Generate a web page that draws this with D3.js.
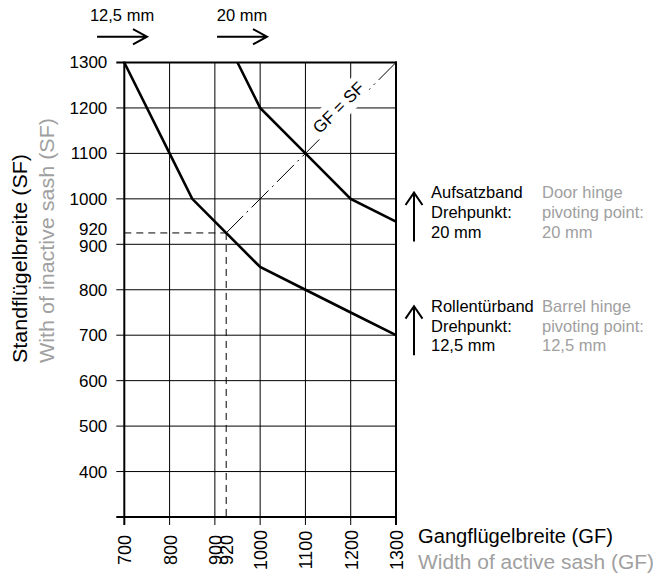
<!DOCTYPE html>
<html><head><meta charset="utf-8">
<script src="https://cdn.jsdelivr.net/npm/d3@7"></script>
<style>
body{margin:0;background:#fff}
svg{display:block}
text{font-family:Arial,"Liberation Sans",sans-serif}
</style>
</head><body>
<svg id="c" width="658" height="576"></svg>
<script>
// ---- data ----
const gfTicks = [700, 800, 900, 1000, 1100, 1200, 1300];
const sfTicks = [400, 500, 600, 700, 800, 900, 1000, 1100, 1200, 1300];
const markLabel = "920";
const guideValue = 925;
const curve125GF = [700, 800, 850, 1000, 1100, 1200, 1300];
const curve125SF = [1300, 1100, 1000, 850, 800, 750, 700];
const curve20GF = [950, 1000, 1100, 1200, 1300];
const curve20SF = [1300, 1200, 1100, 1000, 950];
const diagonalRange = [925, 1300];
const diagonalLabel = "GF = SF";
const topLabels = ["12,5 mm", "20 mm"];
const topLabelGF = [695, 960];
const hingeDE = [["Aufsatzband", "Drehpunkt:", "20 mm"], ["Rollentürband", "Drehpunkt:", "12,5 mm"]];
const hingeEN = [["Door hinge", "pivoting point:", "20 mm"], ["Barrel hinge", "pivoting point:", "12,5 mm"]];
const yTitleDE = "Standflügelbreite (SF)";
const yTitleEN = "With of inactive sash (SF)";
const xTitleDE = "Gangflügelbreite (GF)";
const xTitleEN = "Width of active sash (GF)";

// ---- layout ----
const GRAY = "#a0a0a0";
const FONT = "Arial, 'Liberation Sans', sans-serif";
const svg = d3.select("#c");
const x = d3.scaleLinear().domain([700, 1300]).range([124.3, 396]);
const y = d3.scaleLinear().domain([300, 1300]).range([517, 62.5]);
const x0 = x(700), x1 = x(1300), yb = y(300), yt = y(1300);
const TK = 8;

// grid
const grid = svg.append("g").attr("stroke", "#000").attr("stroke-width", 1);
grid.selectAll(".v").data(gfTicks.filter(d => d > 700 && d < 1300)).join("line").attr("class", "v")
  .attr("x1", d => x(d)).attr("x2", d => x(d)).attr("y1", yt).attr("y2", yb + TK);
grid.selectAll(".h").data(sfTicks.filter(d => d < 1300)).join("line").attr("class", "h")
  .attr("x1", x0 - TK).attr("x2", x1).attr("y1", d => y(d)).attr("y2", d => y(d));

// dashed guides
const dash = svg.append("g").attr("stroke", "#000").attr("stroke-width", 1).attr("stroke-dasharray", "7,5");
dash.append("line").attr("x1", x0).attr("x2", x(guideValue)).attr("y1", y(guideValue)).attr("y2", y(guideValue));
dash.append("line").attr("x1", x(guideValue)).attr("x2", x(guideValue)).attr("y1", y(guideValue)).attr("y2", yb);

// diagonal GF = SF
svg.append("line").attr("stroke", "#000").attr("stroke-width", 1).attr("stroke-dasharray", "24,5,2,5")
  .attr("x1", x(diagonalRange[0])).attr("y1", y(diagonalRange[0]))
  .attr("x2", x(diagonalRange[1])).attr("y2", y(diagonalRange[1]));

// diagonal label with white background
const lv = 1187;
const lg = svg.append("g").attr("transform", `translate(${x(lv)},${y(lv)}) rotate(-45)`);
const lbg = lg.append("rect").attr("fill", "#fff");
const lt = lg.append("text").attr("y", -3).attr("text-anchor", "middle").attr("font-size", 17).text(diagonalLabel);
const bb = lt.node().getBBox();
lbg.attr("x", bb.x - 2).attr("y", bb.y - 3).attr("width", bb.width + 4).attr("height", bb.height + 6);

// frame / axes lines
const frame = svg.append("g").attr("stroke", "#000").attr("stroke-width", 2).attr("fill", "none");
frame.append("line").attr("x1", x0).attr("x2", x0).attr("y1", yt - 1).attr("y2", yb + TK);
frame.append("line").attr("x1", x1).attr("x2", x1).attr("y1", yt - 1).attr("y2", yb + TK);
frame.append("line").attr("x1", x0 - TK).attr("x2", x1 + 1).attr("y1", yt).attr("y2", yt);
frame.append("line").attr("x1", x0 - TK).attr("x2", x1 + 1).attr("y1", yb).attr("y2", yb);

// curves
const line = d3.line().x(d => x(d[0])).y(d => y(d[1]));
const c1 = curve125GF.map((g, i) => [g, curve125SF[i]]);
const c2 = curve20GF.map((g, i) => [g, curve20SF[i]]);
svg.selectAll(".curve").data([c1, c2]).join("path").attr("class", "curve")
  .attr("d", line).attr("fill", "none").attr("stroke", "#000").attr("stroke-width", 2.6)
  .attr("stroke-linejoin", "miter");

// y axis labels
const yAxis = svg.append("g").attr("transform", `translate(${x0},0)`)
  .call(d3.axisLeft(y).tickValues(sfTicks.concat([guideValue])).tickSize(TK).tickPadding(9)
    .tickFormat(d => d === guideValue ? markLabel : d3.format("d")(d)));
yAxis.select(".domain").remove();
yAxis.selectAll(".tick line").remove();
yAxis.selectAll(".tick text").attr("font-size", 17).attr("font-family", FONT).attr("fill", "#000")
  .attr("dy", d => d === guideValue ? "0.1em" : (d === 900 ? "0.4em" : "0.32em"));

// x axis labels
const xAxis = svg.append("g").attr("transform", `translate(0,${yb})`)
  .call(d3.axisBottom(x).tickValues(gfTicks.concat([guideValue])).tickSize(TK)
    .tickFormat(d => d === guideValue ? markLabel : d3.format("d")(d)));
xAxis.select(".domain").remove();
xAxis.selectAll(".tick line").remove();
xAxis.selectAll(".tick text")
  .attr("font-size", 18).attr("font-family", FONT).attr("fill", "#000")
  .attr("transform", "rotate(-90)").attr("x", -33).attr("y", 0).attr("dy", "0.36em").attr("text-anchor", "middle");

// arrows
function arrow(g, xa, ya, xb, yb2, head, ang) {
  const a = Math.atan2(yb2 - ya, xb - xa);
  const p = g.append("path").attr("fill", "none").attr("stroke", "#000").attr("stroke-width", 2)
    .attr("stroke-linecap", "butt").attr("stroke-linejoin", "miter");
  const h1 = [xb - head * Math.cos(a - ang), yb2 - head * Math.sin(a - ang)];
  const h2 = [xb - head * Math.cos(a + ang), yb2 - head * Math.sin(a + ang)];
  p.attr("d", `M${xa},${ya}L${xb},${yb2}M${h1[0]},${h1[1]}L${xb},${yb2}L${h2[0]},${h2[1]}`);
}

// top arrows & labels
const topG = svg.append("g");
topLabels.forEach((t, i) => {
  const cx = x(topLabelGF[i]);
  topG.append("text").attr("x", cx).attr("y", 20.7).attr("text-anchor", "middle").attr("font-size", 16.5).text(t);
  arrow(topG, cx - 25, 36.7, cx + 25, 36.7, 16, 0.5);
});

// right annotations
const ends = [c2[c2.length - 1], c1[c1.length - 1]];
const ann = svg.append("g");
ends.forEach((e, i) => {
  const ey = y(e[1]);
  const ax = x(e[0]) + 18;
  arrow(ann, ax, ey + 20, ax, ey - 29, 15, 0.6);
  hingeDE[i].forEach((t, j) => {
    ann.append("text").attr("x", x(e[0]) + 35).attr("y", ey - 23.5 + j * 19.8).attr("font-size", 16.5).attr("fill", "#000").text(t);
  });
  hingeEN[i].forEach((t, j) => {
    ann.append("text").attr("x", x(e[0]) + 146).attr("y", ey - 23.5 + j * 19.8).attr("font-size", 16.5).attr("fill", GRAY).text(t);
  });
});

// axis titles
svg.append("text").attr("transform", "translate(27,363) rotate(-90)").attr("font-size", 21)
  .attr("textLength", 209).attr("lengthAdjust", "spacingAndGlyphs").attr("fill", "#000").text(yTitleDE);
svg.append("text").attr("transform", "translate(53.5,363) rotate(-90)").attr("font-size", 21)
  .attr("textLength", 245).attr("lengthAdjust", "spacingAndGlyphs").attr("fill", GRAY).text(yTitleEN);
svg.append("text").attr("x", 418).attr("y", 543).attr("font-size", 20)
  .attr("textLength", 195).attr("lengthAdjust", "spacingAndGlyphs").attr("fill", "#000").text(xTitleDE);
svg.append("text").attr("x", 418).attr("y", 569).attr("font-size", 20)
  .attr("textLength", 236).attr("lengthAdjust", "spacingAndGlyphs").attr("fill", GRAY).text(xTitleEN);
</script>
</body></html>
